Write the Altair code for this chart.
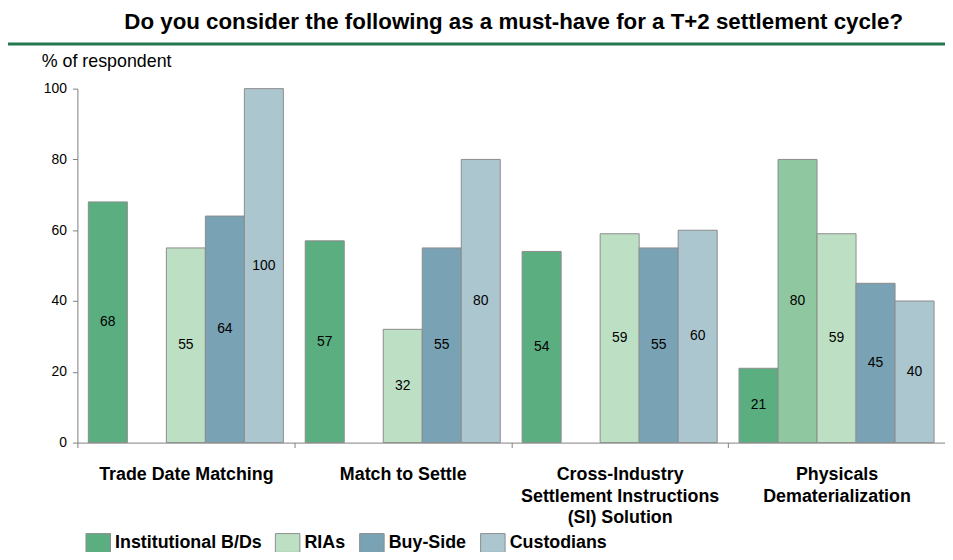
import altair as alt
import pandas as pd

title_text = ["Do you consider the following as a must-have for a T+2 settlement cycle?"]
y_title = ["% of respondent"]
categories = [
    "Trade Date Matching",
    "Match to Settle",
    "Cross-Industry|Settlement Instructions|(SI) Solution",
    "Physicals|Dematerialization",
]
series = ["Institutional B/Ds", "Other", "RIAs", "Buy-Side", "Custodians"]
legend_series = ["Institutional B/Ds", "RIAs", "Buy-Side", "Custodians"]
inst_bds = [68, 57, 54, 21]
other = [None, None, None, 80]
rias = [55, 32, 59, 59]
buy_side = [64, 55, 55, 45]
custodians = [100, 80, 60, 40]
colors = ["#5bae80", "#8fc8a0", "#bde0c5", "#79a3b4", "#acc6d0"]
y_ticks = [0, 20, 40, 60, 80, 100]

rows = []
for name, vals in zip(series, [inst_bds, other, rias, buy_side, custodians]):
    for cat, v in zip(categories, vals):
        if v is not None:
            rows.append({"category": cat, "series": name, "value": v})
df = pd.DataFrame(rows)

FONT = "Liberation Sans, Arial, sans-serif"
W, H = 875, 357

x = alt.X(
    "category:N",
    sort=categories,
    scale=alt.Scale(domain=categories, paddingInner=0, paddingOuter=0),
    axis=alt.Axis(
        title=None,
        labelExpr="split(datum.label, '|')",
        labelAngle=0,
        labelFont=FONT,
        labelFontSize=18,
        labelFontWeight="bold",
        labelColor="black",
        labelLineHeight=22,
        labelPadding=18,
        labelLimit=0,
        labelBaseline="top",
        tickBand="extent",
        tickSize=5,
        tickColor="#808080",
        domainColor="#808080",
    ),
)
xo = alt.XOffset(
    "series:N",
    sort=series,
    scale=alt.Scale(domain=series, paddingInner=0, paddingOuter=0.28),
)

y_axis = alt.Axis(
    title=None,
    values=y_ticks,
    grid=False,
    labelFont=FONT,
    labelFontSize=14,
    labelColor="black",
    labelPadding=6,
    tickSize=5,
    tickColor="#808080",
    domainColor="#808080",
)

base = alt.Chart(df)

bars = base.mark_bar(stroke="#8c8c8c", strokeWidth=1).encode(
    x=x,
    xOffset=xo,
    y=alt.Y("value:Q", scale=alt.Scale(domain=[0, 100], nice=False), axis=y_axis),
    color=alt.Color(
        "series:N",
        sort=series,
        scale=alt.Scale(domain=series, range=colors),
        legend=alt.Legend(
            title=None,
            values=legend_series,
            orient="none",
            legendX=11,
            legendY=448,
            direction="horizontal",
            symbolType="M-1.3,-1L1.3,-1L1.3,1L-1.3,1Z",
            symbolSize=361,
            symbolStrokeColor="#8c8c8c",
            symbolStrokeWidth=1,
            symbolOpacity=1,
            labelFont=FONT,
            labelFontSize=18,
            labelFontWeight="bold",
            labelColor="black",
            labelOffset=7,
            columnPadding=11,
            padding=0,
            labelLimit=0,
        ),
    ),
)

labels = base.transform_calculate(mid="datum.value / 2").mark_text(
    font=FONT, fontSize=14, color="black"
).encode(
    x=x,
    xOffset=xo,
    y=alt.Y("mid:Q", scale=alt.Scale(domain=[0, 100], nice=False), axis=y_axis),
    text=alt.Text("value:Q"),
)

title = alt.Chart(pd.DataFrame({"t": title_text})).mark_text(
    font=FONT, fontSize=22.5, fontWeight="bold", color="black", align="center", baseline="middle"
).encode(x=alt.value(440), y=alt.value(-67), text="t:N")

ytitle = alt.Chart(pd.DataFrame({"t": y_title})).mark_text(
    font=FONT, fontSize=18, color="black", align="left", baseline="middle"
).encode(x=alt.value(-36), y=alt.value(-27), text="t:N")

line = alt.Chart(pd.DataFrame({"t": [0]})).mark_rule(color="#23784f", strokeWidth=3).encode(
    x=alt.value(-70), x2=alt.value(W), y=alt.value(-45)
)

chart = alt.layer(line, title, ytitle, bars, labels).properties(
    width=W,
    height=H,
    autosize=alt.AutoSizeParams(type="none"),
    padding={"left": 70, "top": 79, "right": 0, "bottom": 108},
).configure_view(stroke=None)

chart.save("out.html", embed_options={"renderer": "svg", "actions": False})
